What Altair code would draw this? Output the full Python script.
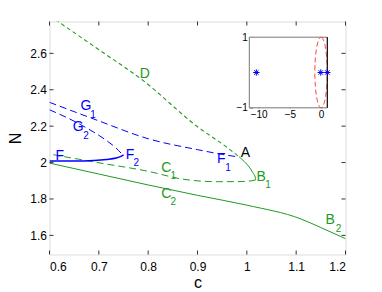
import altair as alt
import pandas as pd

# ---------------- data ----------------
D_c = [0.612, 0.70, 0.79, 0.90, 0.96, 0.985]
D_N = [2.785, 2.62, 2.45, 2.197, 2.083, 2.03]

G1_c = [0.60, 0.70, 0.80, 0.90, 0.95, 0.985]
G1_N = [2.331, 2.229, 2.131, 2.071, 2.045, 2.03]

G2_c = [0.60, 0.662, 0.716, 0.735, 0.746, 0.75]
G2_N = [2.29, 2.21, 2.12, 2.08, 2.05, 2.042]

F_c = [0.60, 0.65, 0.69, 0.716, 0.735, 0.746, 0.75]
F_N = [2.008, 2.008, 2.011, 2.017, 2.025, 2.035, 2.042]

AB_c = [0.985, 0.995, 1.005, 1.012, 1.017, 1.018]
AB_N = [2.03, 2.005, 1.975, 1.945, 1.92, 1.905]

C1_c = [1.018, 1.01, 0.99, 0.94, 0.87, 0.80, 0.70, 0.60]
C1_N = [1.905, 1.900, 1.896, 1.895, 1.909, 1.952, 1.999, 2.047]

C2_c = [0.60, 0.70, 0.80, 0.90, 1.00, 1.11, 1.15, 1.20]
C2_N = [1.997, 1.937, 1.877, 1.82, 1.766, 1.69, 1.643, 1.582]

x_ticks = [0.6, 0.7, 0.8, 0.9, 1.0, 1.1, 1.2]
y_ticks = [1.6, 1.8, 2.0, 2.2, 2.4, 2.6]

# labels: letter, subscript, positions
lab_txt = ["D", "G", "G", "F", "F", "F", "A", "C", "C", "B", "B"]
lab_c = [0.793, 0.674, 0.658, 0.621, 0.763, 0.948, 0.997, 0.837, 0.837, 1.029, 1.169]
lab_N = [2.486, 2.310, 2.195, 2.036, 2.041, 2.019, 2.052, 1.970, 1.827, 1.920, 1.684]
lab_col = ["g", "b", "b", "b", "b", "b", "k", "g", "g", "g", "g"]

sub_txt = ["1", "2", "2", "1", "1", "2", "1", "2"]
sub_c = [0.688, 0.674, 0.776, 0.962, 0.851, 0.851, 1.043, 1.186]
sub_N = [2.262, 2.147, 2.0, 1.972, 1.928, 1.785, 1.879, 1.637]
sub_col = ["b", "b", "b", "b", "g", "g", "g", "g"]

# inset: eigenvalues
eig_re = [-10.37, -0.05, 1.0]
eig_im = [0.0, 0.0, 0.0]
inset_xticks = [-10, -5, 0]
inset_yticks = [-1, 0, 1]

GREEN = "#229922"
BLUE = "#0000ff"
colmap = {"g": GREEN, "b": BLUE, "k": "#000000"}

W, H = 296, 233
FONT = "Liberation Sans"

xs = alt.Scale(domain=[0.6, 1.2], nice=False, zero=False)
ys = alt.Scale(domain=[1.495, 2.775], nice=False, zero=False)


def curve(cs, ns, color, dash=None, width=1.0):
    df = pd.DataFrame({"c": cs, "N": ns, "o": list(range(len(cs)))})
    kw = dict(color=color, strokeWidth=width, clip=True, interpolate="monotone")
    if dash:
        kw["strokeDash"] = dash
    return alt.Chart(df).mark_line(**kw).encode(
        x=alt.X("c:Q", scale=xs, axis=alt.Axis(
            title="c", values=x_ticks, ticks=False, domain=False, grid=False,
            labelFont=FONT, labelFontSize=12, labelColor="#000", labelPadding=7,
            titleFont=FONT, titleFontSize=16, titleFontWeight="normal", titleColor="#000",
            titlePadding=2, labelExpr="datum.value == 1 ? '1' : format(datum.value, '.1f')")),
        y=alt.Y("N:Q", scale=ys, axis=alt.Axis(
            title="N", values=y_ticks, ticks=False, domain=False, grid=False,
            labelFont=FONT, labelFontSize=12, labelColor="#000", labelPadding=3,
            titleFont=FONT, titleFontSize=16, titleFontWeight="normal", titleColor="#000",
            titlePadding=6, labelExpr="datum.value == 2 ? '2' : format(datum.value, '.1f')")),
        order="o:Q",
    )


layers = [
    curve(D_c, D_N, GREEN, [4, 3], 1.1),
    curve(G1_c, G1_N, BLUE, [7, 4]),
    curve(G2_c, G2_N, BLUE, [7, 4]),
    curve(C1_c, C1_N, GREEN, [7, 4]),
    curve(F_c, F_N, BLUE, None, 1.5),
    curve(AB_c, AB_N, GREEN, None, 1.0),
    curve(C2_c, C2_N, GREEN, None, 1.0),
]

# ticks (inward) on all four sides
xt = pd.DataFrame({"t": x_ticks})
yt = pd.DataFrame({"t": y_ticks})
tick_style = dict(color="#333", strokeWidth=1)
layers += [
    alt.Chart(xt).mark_rule(**tick_style).encode(x=alt.X("t:Q", scale=xs), y=alt.value(H), y2=alt.value(H - 4)),
    alt.Chart(xt).mark_rule(**tick_style).encode(x=alt.X("t:Q", scale=xs), y=alt.value(0), y2=alt.value(4)),
    alt.Chart(yt).mark_rule(**tick_style).encode(y=alt.Y("t:Q", scale=ys), x=alt.value(0), x2=alt.value(4)),
    alt.Chart(yt).mark_rule(**tick_style).encode(y=alt.Y("t:Q", scale=ys), x=alt.value(W), x2=alt.value(W - 4)),
]

# labels
lab_df = pd.DataFrame({"t": lab_txt, "c": lab_c, "N": lab_N, "col": [colmap[k] for k in lab_col]})
sub_df = pd.DataFrame({"t": sub_txt, "c": sub_c, "N": sub_N, "col": [colmap[k] for k in sub_col]})
layers += [
    alt.Chart(lab_df).mark_text(font=FONT, fontSize=14, align="center", baseline="middle").encode(
        x=alt.X("c:Q", scale=xs), y=alt.Y("N:Q", scale=ys), text="t:N",
        color=alt.Color("col:N", scale=None)),
    alt.Chart(sub_df).mark_text(font=FONT, fontSize=10, align="center", baseline="middle").encode(
        x=alt.X("c:Q", scale=xs), y=alt.Y("N:Q", scale=ys), text="t:N",
        color=alt.Color("col:N", scale=None)),
]

main = alt.layer(*layers)

# ---------------- inset ----------------
IX0, IX1 = 199.8, 277.8   # pixel range inside plot area
IY0, IY1 = 86.3, 15.7
ixs = alt.Scale(domain=[-11.5, 1.0], range=[IX0, IX1], nice=False, zero=False)
iys = alt.Scale(domain=[-1.0, 1.0], range=[IY0, IY1], nice=False, zero=False)

box_df = pd.DataFrame({"x": [-11.5], "x2": [1.0], "y": [-1.0], "y2": [1.0]})
inset_box = alt.Chart(box_df).mark_rect(fill="white", stroke="#777", strokeWidth=1).encode(
    x=alt.X("x:Q", scale=ixs, axis=alt.Axis(
        title=None, orient="bottom", offset=IY0 - H - 3, values=inset_xticks, tickSize=3,
        tickColor="#555", domain=False, grid=False, labelFont=FONT, labelFontSize=10,
        labelColor="#000", labelPadding=2, format="d")),
    x2="x2:Q",
    y=alt.Y("y:Q", scale=iys, axis=alt.Axis(
        title=None, orient="left", offset=-(IX0 + 3), values=inset_yticks, tickSize=3,
        tickColor="#555", domain=False, grid=False, labelFont=FONT, labelFontSize=10,
        labelColor="#000", labelPadding=2, format="d")),
    y2="y2:Q",
)

ell_df = pd.DataFrame({"x": [0.0], "y": [0.0]})
ellipse = alt.Chart(ell_df).mark_point(
    shape="M0,-1 A0.176,1 0 1,1 0,1 A0.176,1 0 1,1 0,-1 Z",
    size=70.6 ** 2, filled=False, stroke="#ff4444", strokeWidth=1, strokeDash=[5, 3], opacity=1,
).encode(x=alt.X("x:Q", scale=ixs), y=alt.Y("y:Q", scale=iys))

edge_df = pd.DataFrame({"x": [1.0], "y": [-1.0], "y2": [1.0]})
edge = alt.Chart(edge_df).mark_rule(color="#000", strokeWidth=1).encode(
    x=alt.X("x:Q", scale=ixs), y=alt.Y("y:Q", scale=iys), y2="y2:Q")

eig_df = pd.DataFrame({"x": eig_re, "y": eig_im})
stars = alt.Chart(eig_df).mark_point(
    shape="M-1,0L1,0M0,-1L0,1M-0.7,-0.7L0.7,0.7M-0.7,0.7L0.7,-0.7",
    size=40, filled=False, stroke=BLUE, strokeWidth=1, opacity=1,
).encode(x=alt.X("x:Q", scale=ixs), y=alt.Y("y:Q", scale=iys))

inset = alt.layer(inset_box, ellipse, edge, stars)

chart = alt.layer(main, inset).resolve_scale(x="independent", y="independent").properties(
    width=W, height=H,
    autosize=alt.AutoSizeParams(type="none"),
    padding={"left": 41.5, "top": 13.5, "right": 28, "bottom": 37},
).configure_view(stroke="#222", strokeWidth=1).configure(background="white")

chart.save("out.html", embed_options={"renderer": "svg", "actions": False})
